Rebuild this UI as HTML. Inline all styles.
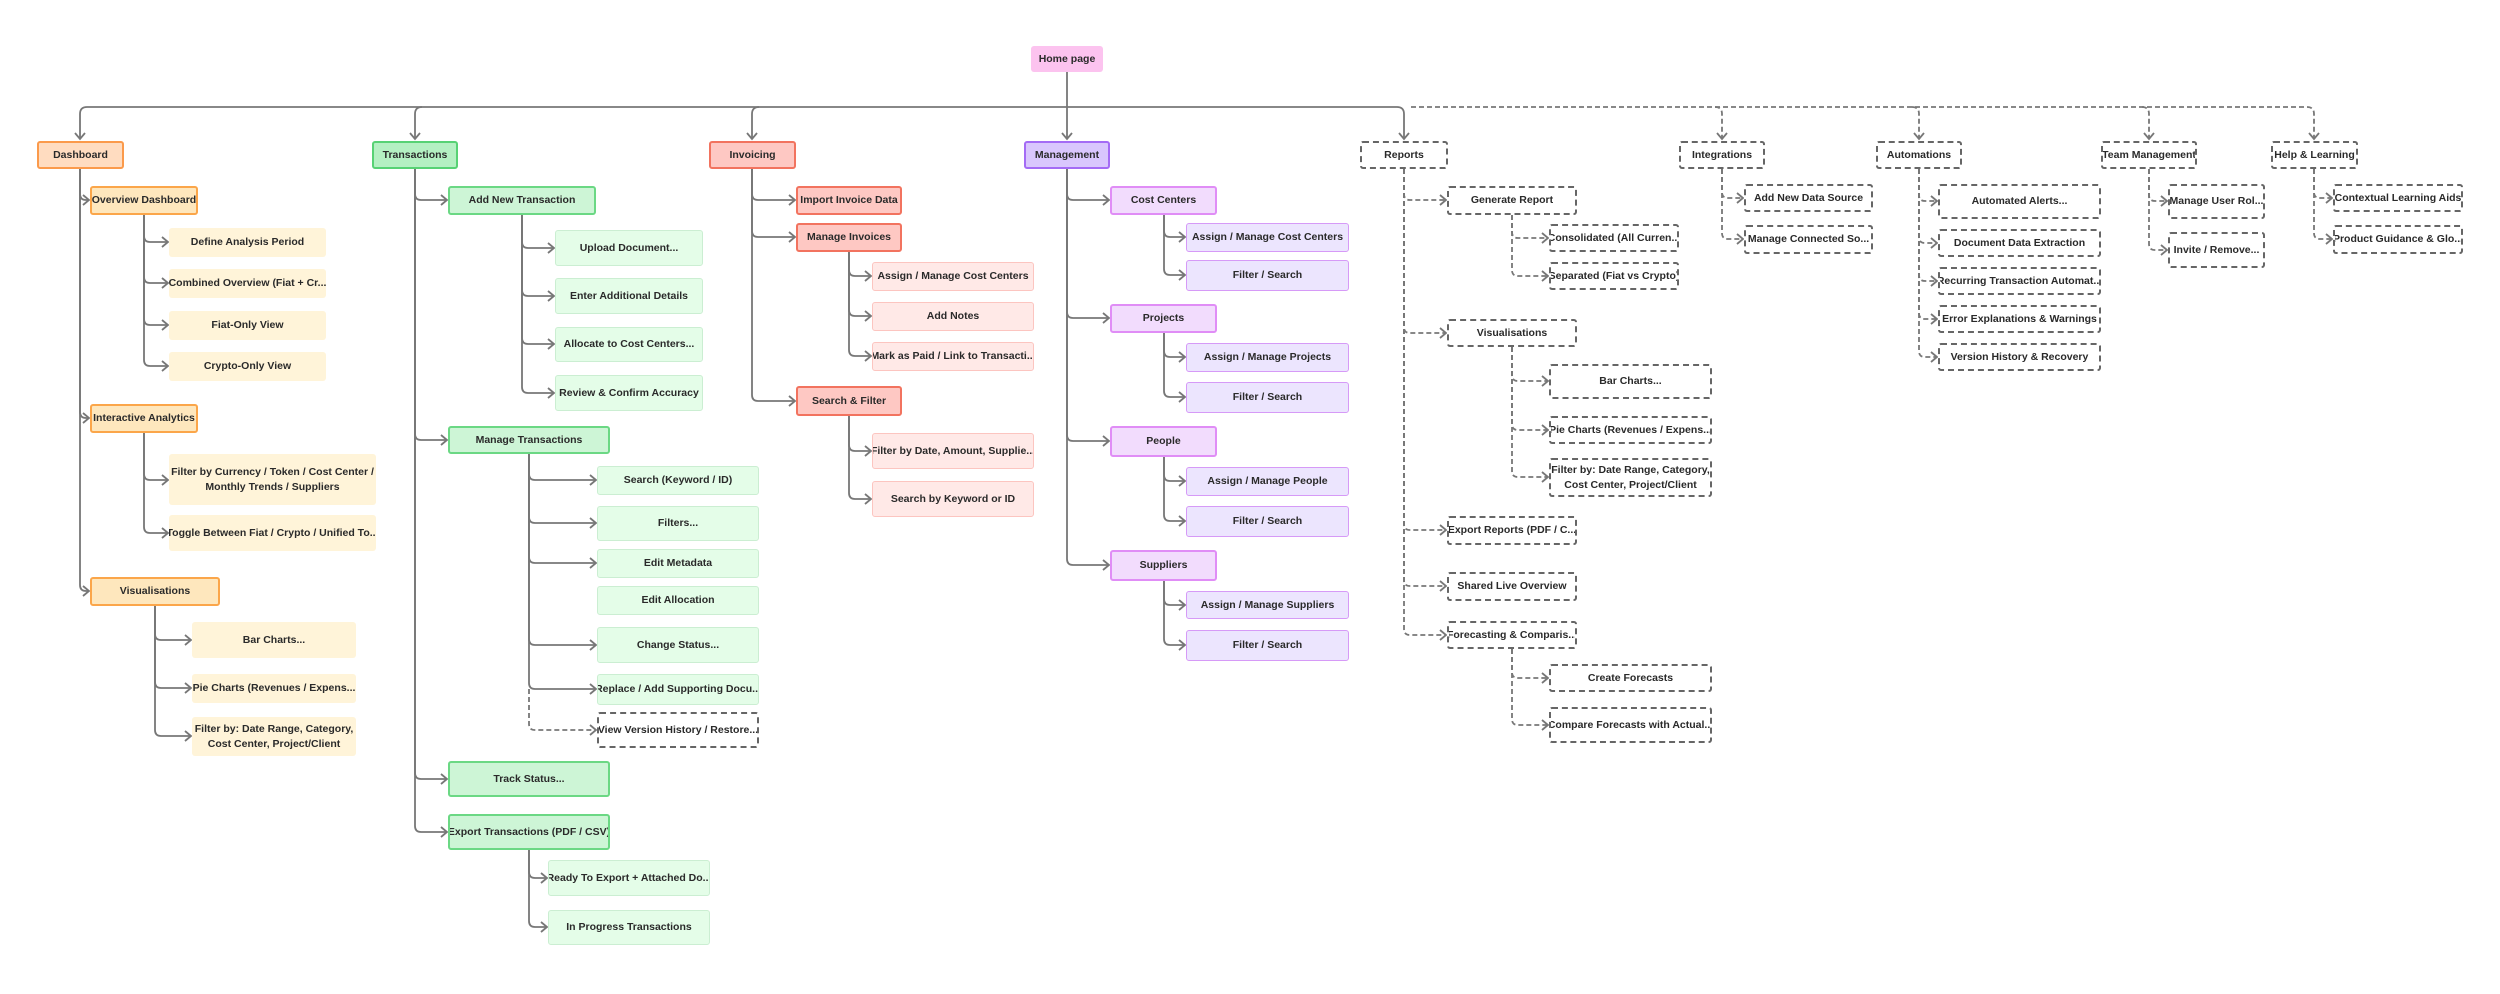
<!DOCTYPE html>
<html><head><meta charset="utf-8"><style>
body{margin:0;width:2500px;height:994px;background:#fff;position:relative;overflow:hidden;font-family:"Liberation Sans",sans-serif}
.n{position:absolute;box-sizing:border-box;display:flex;align-items:center;justify-content:center;text-align:center;font-weight:700;font-size:10.5px;line-height:15px;color:#2a2a2a;border-radius:3px;white-space:nowrap;overflow:hidden;padding:0 3px}
.home{background:#fcc3ef}
.d1{background:#ffdcc0;border:2px solid #fb9a4b}
.d2{background:#fee7bd;border:2px solid #fba64a}
.d3{background:#fff4d9}
.t1{background:#b4f0c2;border:2px solid #57d274}
.t2{background:#cdf5d6;border:2px solid #6bd884}
.t3{background:#e4fde8;border:1.5px solid #cbeed2}
.i1,.i2{background:#fec8c3;border:2px solid #f2735f}
.i3{background:#ffe9e7;border:1.5px solid #fcc5c0}
.m1{background:#d9c6fd;border:2px solid #a46bf5}
.m2{background:#f2dcfd;border:2px solid #e08df6}
.m3{background:#ece5fe;border:1.5px solid #d69af7}
.ds{background:#fff;border:2px dashed #666}
svg{position:absolute;left:0;top:0}
</style></head><body>
<svg id="s" width="2500" height="994" fill="none" stroke="#777" stroke-width="1.8"></svg>
<div class="n home" style="left:1031px;top:46px;width:72px;height:26px">Home page</div>
<div class="n d1" style="left:37px;top:141px;width:87px;height:28px">Dashboard</div>
<div class="n t1" style="left:372px;top:141px;width:86px;height:28px">Transactions</div>
<div class="n i1" style="left:709px;top:141px;width:87px;height:28px">Invoicing</div>
<div class="n m1" style="left:1024px;top:141px;width:86px;height:28px">Management</div>
<div class="n ds" style="left:1360px;top:141px;width:88px;height:28px">Reports</div>
<div class="n ds" style="left:1679px;top:141px;width:86px;height:28px">Integrations</div>
<div class="n ds" style="left:1876px;top:141px;width:86px;height:28px">Automations</div>
<div class="n ds" style="left:2101px;top:141px;width:96px;height:28px">Team Management</div>
<div class="n ds" style="left:2271px;top:141px;width:87px;height:28px">Help &amp; Learning</div>

<div class="n d2" style="left:90px;top:186px;width:108px;height:29px">Overview Dashboard</div>
<div class="n d3" style="left:169px;top:228px;width:157px;height:29px">Define Analysis Period</div>
<div class="n d3" style="left:169px;top:269px;width:157px;height:29px">Combined Overview (Fiat + Cr...</div>
<div class="n d3" style="left:169px;top:311px;width:157px;height:29px">Fiat-Only View</div>
<div class="n d3" style="left:169px;top:352px;width:157px;height:29px">Crypto-Only View</div>
<div class="n d2" style="left:90px;top:404px;width:108px;height:29px">Interactive Analytics</div>
<div class="n d3" style="left:169px;top:454px;width:207px;height:51px">Filter by Currency / Token / Cost Center /<br>Monthly Trends / Suppliers</div>
<div class="n d3" style="left:169px;top:515px;width:207px;height:36px">Toggle Between Fiat / Crypto / Unified To...</div>
<div class="n d2" style="left:90px;top:577px;width:130px;height:29px">Visualisations</div>
<div class="n d3" style="left:192px;top:622px;width:164px;height:36px">Bar Charts...</div>
<div class="n d3" style="left:192px;top:674px;width:164px;height:29px">Pie Charts (Revenues / Expens...</div>
<div class="n d3" style="left:192px;top:717px;width:164px;height:39px">Filter by: Date Range, Category,<br>Cost Center, Project/Client</div>

<div class="n t2" style="left:448px;top:186px;width:148px;height:29px">Add New Transaction</div>
<div class="n t3" style="left:555px;top:230px;width:148px;height:36px">Upload Document...</div>
<div class="n t3" style="left:555px;top:278px;width:148px;height:36px">Enter Additional Details</div>
<div class="n t3" style="left:555px;top:327px;width:148px;height:35px">Allocate to Cost Centers...</div>
<div class="n t3" style="left:555px;top:375px;width:148px;height:36px">Review &amp; Confirm Accuracy</div>
<div class="n t2" style="left:448px;top:426px;width:162px;height:28px">Manage Transactions</div>
<div class="n t3" style="left:597px;top:466px;width:162px;height:29px">Search (Keyword / ID)</div>
<div class="n t3" style="left:597px;top:506px;width:162px;height:35px">Filters...</div>
<div class="n t3" style="left:597px;top:549px;width:162px;height:29px">Edit Metadata</div>
<div class="n t3" style="left:597px;top:586px;width:162px;height:29px">Edit Allocation</div>
<div class="n t3" style="left:597px;top:627px;width:162px;height:36px">Change Status...</div>
<div class="n t3" style="left:597px;top:674px;width:162px;height:31px">Replace / Add Supporting Docu...</div>
<div class="n ds" style="left:597px;top:712px;width:162px;height:36px">View Version History / Restore...</div>
<div class="n t2" style="left:448px;top:761px;width:162px;height:36px">Track Status...</div>
<div class="n t2" style="left:448px;top:814px;width:162px;height:36px">Export Transactions (PDF / CSV)</div>
<div class="n t3" style="left:548px;top:860px;width:162px;height:36px">Ready To Export + Attached Do...</div>
<div class="n t3" style="left:548px;top:910px;width:162px;height:35px">In Progress Transactions</div>

<div class="n i2" style="left:796px;top:186px;width:106px;height:29px">Import Invoice Data</div>
<div class="n i2" style="left:796px;top:223px;width:106px;height:29px">Manage Invoices</div>
<div class="n i3" style="left:872px;top:262px;width:162px;height:29px">Assign / Manage Cost Centers</div>
<div class="n i3" style="left:872px;top:302px;width:162px;height:29px">Add Notes</div>
<div class="n i3" style="left:872px;top:342px;width:162px;height:29px">Mark as Paid / Link to Transacti...</div>
<div class="n i2" style="left:796px;top:386px;width:106px;height:30px">Search &amp; Filter</div>
<div class="n i3" style="left:872px;top:433px;width:162px;height:36px">Filter by Date, Amount, Supplie...</div>
<div class="n i3" style="left:872px;top:481px;width:162px;height:36px">Search by Keyword or ID</div>

<div class="n m2" style="left:1110px;top:186px;width:107px;height:29px">Cost Centers</div>
<div class="n m3" style="left:1186px;top:223px;width:163px;height:29px">Assign / Manage Cost Centers</div>
<div class="n m3" style="left:1186px;top:260px;width:163px;height:31px">Filter / Search</div>
<div class="n m2" style="left:1110px;top:304px;width:107px;height:29px">Projects</div>
<div class="n m3" style="left:1186px;top:343px;width:163px;height:29px">Assign / Manage Projects</div>
<div class="n m3" style="left:1186px;top:382px;width:163px;height:31px">Filter / Search</div>
<div class="n m2" style="left:1110px;top:426px;width:107px;height:31px">People</div>
<div class="n m3" style="left:1186px;top:467px;width:163px;height:29px">Assign / Manage People</div>
<div class="n m3" style="left:1186px;top:506px;width:163px;height:31px">Filter / Search</div>
<div class="n m2" style="left:1110px;top:550px;width:107px;height:31px">Suppliers</div>
<div class="n m3" style="left:1186px;top:591px;width:163px;height:28px">Assign / Manage Suppliers</div>
<div class="n m3" style="left:1186px;top:630px;width:163px;height:31px">Filter / Search</div>

<div class="n ds" style="left:1447px;top:186px;width:130px;height:29px">Generate Report</div>
<div class="n ds" style="left:1549px;top:224px;width:130px;height:28px">Consolidated (All Curren...</div>
<div class="n ds" style="left:1549px;top:262px;width:130px;height:28px">Separated (Fiat vs Crypto)</div>
<div class="n ds" style="left:1447px;top:319px;width:130px;height:28px">Visualisations</div>
<div class="n ds" style="left:1549px;top:364px;width:163px;height:35px">Bar Charts...</div>
<div class="n ds" style="left:1549px;top:416px;width:163px;height:28px">Pie Charts (Revenues / Expens...</div>
<div class="n ds" style="left:1549px;top:458px;width:163px;height:39px">Filter by: Date Range, Category,<br>Cost Center, Project/Client</div>
<div class="n ds" style="left:1447px;top:516px;width:130px;height:29px">Export Reports (PDF / C...</div>
<div class="n ds" style="left:1447px;top:572px;width:130px;height:29px">Shared Live Overview</div>
<div class="n ds" style="left:1447px;top:621px;width:130px;height:28px">Forecasting &amp; Comparis...</div>
<div class="n ds" style="left:1549px;top:664px;width:163px;height:28px">Create Forecasts</div>
<div class="n ds" style="left:1549px;top:707px;width:163px;height:36px">Compare Forecasts with Actual...</div>

<div class="n ds" style="left:1744px;top:184px;width:129px;height:28px">Add New Data Source</div>
<div class="n ds" style="left:1744px;top:225px;width:129px;height:29px">Manage Connected So...</div>
<div class="n ds" style="left:1938px;top:184px;width:163px;height:35px">Automated Alerts...</div>
<div class="n ds" style="left:1938px;top:229px;width:163px;height:28px">Document Data Extraction</div>
<div class="n ds" style="left:1938px;top:267px;width:163px;height:28px">Recurring Transaction Automat...</div>
<div class="n ds" style="left:1938px;top:305px;width:163px;height:28px">Error Explanations &amp; Warnings</div>
<div class="n ds" style="left:1938px;top:343px;width:163px;height:28px">Version History &amp; Recovery</div>
<div class="n ds" style="left:2168px;top:184px;width:97px;height:35px">Manage User Rol...</div>
<div class="n ds" style="left:2168px;top:232px;width:97px;height:36px">Invite / Remove...</div>
<div class="n ds" style="left:2333px;top:184px;width:130px;height:28px">Contextual Learning Aids</div>
<div class="n ds" style="left:2333px;top:225px;width:130px;height:29px">Product Guidance &amp; Glo...</div>

<script>
var s=document.getElementById('s'),h='';
function p(d,da){h+='<path d="'+d+'"'+(da?' stroke-dasharray="5 3"':'')+'/>';}
function e(tx,y0,cy,cx,da){p('M'+tx+' '+y0+' V'+(cy-6)+' Q'+tx+' '+cy+' '+(tx+6)+' '+cy+' H'+(cx-2),da);p('M'+(cx-7)+' '+(cy-5)+' L'+(cx-1)+' '+cy+' L'+(cx-7)+' '+(cy+5));}
function g(tx,y0,list,cx,da){list.forEach(function(c){e(tx,y0,c[0],c[1]||cx,da);});}
// top bus
p('M87 107 H1397');p('M1411 107 H2307',1);p('M1067 72 V139');
[[80,0],[415,0],[752,0],[1404,0],[1722,1],[1919,1],[2149,1],[2314,1]].forEach(function(a){var x=a[0],sg=x<1067?1:-1;p('M'+(x+7*sg)+' 107 Q'+x+' 107 '+x+' 114 V139',a[1]);});
[80,415,752,1067,1404,1722,1919,2149,2314].forEach(function(x){p('M'+(x-5)+' 133 L'+x+' 139 L'+(x+5)+' 133');});
// dashboard
g(80,169,[[200],[418],[591]],90);
g(144,215,[[242],[283],[325],[366]],169);
g(144,433,[[480],[533]],169);
g(155,606,[[640],[688],[736]],192);
// transactions
g(415,169,[[200],[440],[779],[832]],448);
g(522,215,[[248],[296],[344],[393]],555);
g(529,454,[[480],[523],[563],[645],[689]],597);
e(529,689,730,597,1);
g(529,850,[[878],[927]],548);
// invoicing
g(752,169,[[200],[237],[401]],796);
g(849,252,[[276],[316],[356]],872);
g(849,416,[[451],[499]],872);
// management
g(1067,169,[[200],[318],[441],[565]],1110);
g(1164,215,[[237],[275]],1186);g(1164,333,[[357],[397]],1186);
g(1164,457,[[481],[521]],1186);g(1164,581,[[605],[645]],1186);
// reports
g(1404,169,[[200],[333],[530],[586],[635]],1447,1);
g(1512,215,[[238],[276]],1549,1);
g(1512,347,[[381],[430],[477]],1549,1);
g(1512,649,[[678],[725]],1549,1);
g(1722,169,[[198],[239]],1744,1);
g(1919,169,[[201],[243],[281],[319],[357]],1938,1);
g(2149,169,[[201],[250]],2168,1);
g(2314,169,[[198],[239]],2333,1);
s.innerHTML=h;
</script>
</body></html>
